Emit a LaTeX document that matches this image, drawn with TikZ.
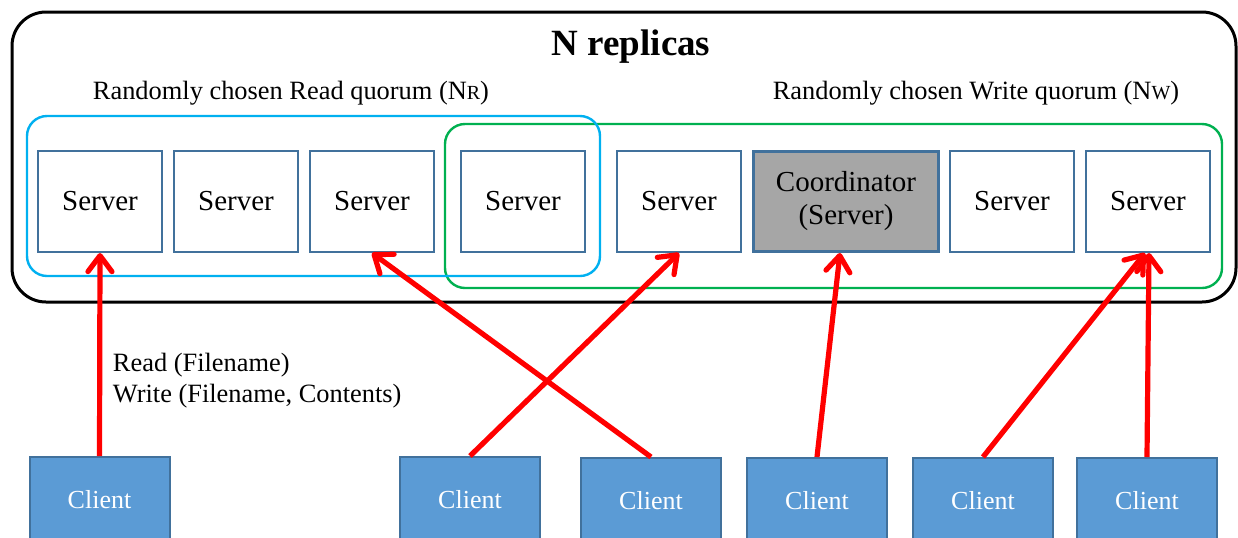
\documentclass[tikz,border=0pt]{standalone}
\usepackage{fontspec}
\setmainfont{Liberation Serif}
\usetikzlibrary{positioning,arrows.meta}
\definecolor{srvline}{HTML}{41719C}
\definecolor{clientblue}{HTML}{5B9BD5}
\definecolor{coordgray}{HTML}{A6A6A6}
\definecolor{readq}{HTML}{00B0F0}
\definecolor{writeq}{HTML}{00B050}
\tikzstyle{server} = [rectangle, minimum width=62pt, minimum height=50.5pt, inner sep=0pt, text centered, draw=srvline, line width=1pt, fill=white, font=\fontsize{14.5}{16.5}\selectfont]
\tikzstyle{coord} = [server, minimum width=92.6pt, minimum height=50.1pt, line width=1.4pt, fill=coordgray, align=center]
\tikzstyle{client} = [rectangle, minimum width=70pt, minimum height=43pt, inner sep=0pt, text centered, draw=srvline, line width=1pt, fill=clientblue, text=white, font=\fontsize{13}{15}\selectfont]
\tikzstyle{quorum} = [rounded corners=10pt, line width=1.2pt]
\tikzstyle{arrow} = [red, line width=2.6pt, -{Straight Barb[length=8pt,width=12pt,round]}]

\begin{document}
\begin{tikzpicture}[x=0.5pt, y=-0.5pt, font=\fontsize{13.2}{15.5}\selectfont]
    \useasboundingbox (0,0) rectangle (1238,537);
    % replicas and the two quorums
    \draw [line width=1.5pt, rounded corners=17pt] (12,12) rectangle (1236,302);
    \draw [quorum, writeq] (445,124) rectangle (1222,288);
    \draw [quorum, readq] (27,116) rectangle (600,276);
    \node (title) at (631,47) {\fontsize{18.5}{20}\selectfont\bfseries N replicas};
    \node (rdlabel) at (291,93) {Randomly chosen Read quorum (N{\fontsize{10}{12}\selectfont R})};
    \node (wrlabel) at (976,93) {Randomly chosen Write quorum (N{\fontsize{10}{12}\selectfont W})};
    % servers
    \node (s1) [server] at (100,201.5) {Server};
    \node (s2) [server, right=5pt of s1] {Server};
    \node (s3) [server, right=5pt of s2] {Server};
    \node (s4) [server, right=12.5pt of s3] {Server};
    \node (s5) [server, right=15pt of s4] {Server};
    \node (co) [coord, right=5pt of s5] {Coordinator\\(Server)};
    \node (s7) [server, right=4.5pt of co] {Server};
    \node (s8) [server, right=5pt of s7] {Server};
    % clients
    \node (c1) [client] at (99.5,500) {Client};
    \node (c2) [client] at (470,500) {Client};
    \node (c3) [client] at (651,501) {Client};
    \node (c4) [client] at (817,501) {Client};
    \node (c5) [client] at (983,501) {Client};
    \node (c6) [client] at (1147,501) {Client};
    % requests
    \draw [arrow] (c1.north) -- node[text=black, anchor=west, pos=0.37, xshift=2pt, align=left] {Read (Filename)\\Write (Filename, Contents)} (s1.south);
    \draw [arrow] (c3.north) -- (s3.south);
    \draw [arrow] (c2.north) -- (s5.south);
    \draw [arrow] (c4.north) -- ([xshift=-3pt]co.south);
    \draw [arrow] (c5.north) -- ([xshift=-1.5pt]s8.south);
    \draw [arrow] (c6.north) -- ([xshift=0.5pt]s8.south);
\end{tikzpicture}
\end{document}
